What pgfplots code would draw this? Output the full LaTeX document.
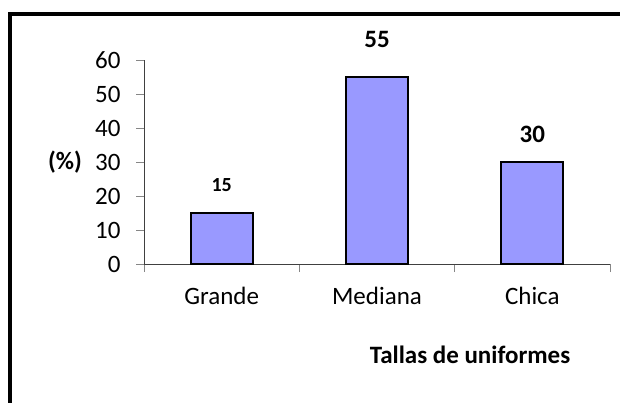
\documentclass[border=0pt]{standalone}
\usepackage{fontspec}
\setmainfont{Carlito}
\usepackage{pgfplots}
\pgfplotsset{compat=1.18}
\definecolor{barfill}{HTML}{9999FF}
\definecolor{axgray}{HTML}{868686}
\newcommand{\chartsize}{\fontsize{25}{30}\selectfont}
\begin{document}
\begin{tikzpicture}[font=\chartsize]
\useasboundingbox (0,0) rectangle (620pt,402pt);
\draw[line width=4pt] (10pt,-2pt) -- (10pt,388pt) -- (624pt,388pt);
\begin{axis}[
  at={(144pt,138pt)}, anchor=south west,
  scale only axis, width=466pt, height=204pt,
  xmin=0.5, xmax=3.5, ymin=0, ymax=60,
  axis lines*=left,
  axis line style={draw=black!75, line width=1pt, -},
  tick align=outside, major tick length=8pt,
  tick style={draw=axgray, line width=1pt},
  ytick={0,10,...,60},
  xtick={0.5,1.5,2.5,3.5}, xticklabels={},
  extra x ticks={1,2,3},
  extra x tick labels={Grande,Mediana,Chica},
  extra x tick style={major tick length=0pt, tick style={draw=none},
    xticklabel style={yshift=-20pt}},
  /pgf/number format/assume math mode=true,
  yticklabel style={xshift=-12pt},
  clip=false,
]
\addplot[ybar, bar width=62pt, fill=barfill, draw=black, line width=2pt]
  coordinates {(1,15) (2,55) (3,30)};
\node[font=\fontsize{20}{24}\selectfont\bfseries, above=18pt] at (axis cs:1,15) {15};
\node[font=\chartsize\bfseries, above=26pt] at (axis cs:2,55) {55};
\node[font=\chartsize\bfseries, above=16pt] at (axis cs:3,30) {30};
\end{axis}
\node[font=\chartsize\bfseries] at (65pt,240pt) {(\%)};
\node[font=\chartsize\bfseries] at (470pt,47pt) {Tallas de uniformes};
\end{tikzpicture}
\end{document}
